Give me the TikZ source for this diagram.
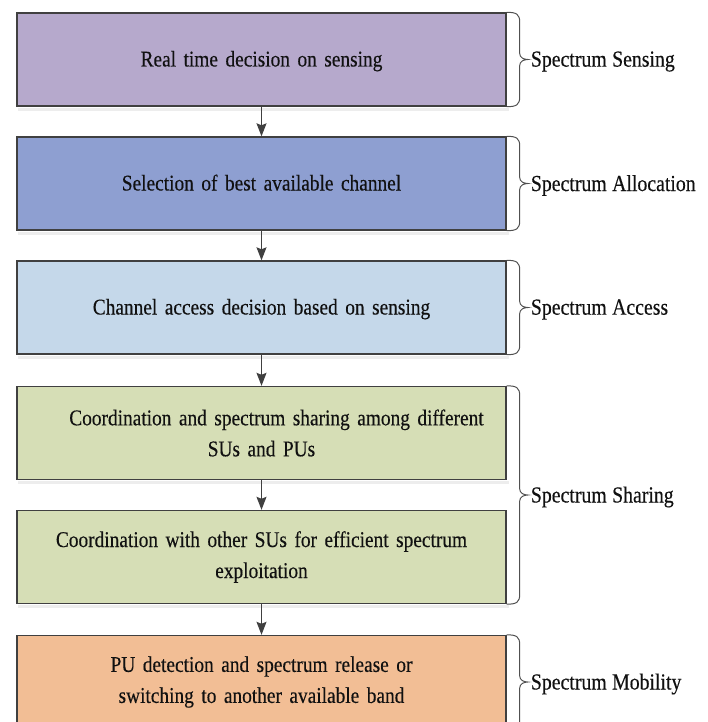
\documentclass[tikz,border=0pt]{standalone}
\usepackage{fontspec}
\setmainfont[FakeStretch=0.86,WordSpace=0.75,FakeBold=0.3]{Liberation Serif}
\newfontfamily\lblfont[FakeStretch=0.86,WordSpace=1.1,FakeBold=0.3]{Liberation Serif}
\usetikzlibrary{arrows.meta,calc}
\definecolor{cSense}{HTML}{B6A9CC}
\definecolor{cAlloc}{HTML}{8E9FD1}
\definecolor{cAccess}{HTML}{C5D8EA}
\definecolor{cShare}{HTML}{D6DEB6}
\definecolor{cMob}{HTML}{F2BE95}
\definecolor{boxline}{HTML}{404040}
\definecolor{arrowc}{HTML}{404040}
\definecolor{bracecol}{HTML}{505050}
\definecolor{txt}{HTML}{111111}
\newcommand{\specbrace}[3]{%
  \path (#1.north east) coordinate (bt-#3) (#2.south east) coordinate (bb-#3);
  \coordinate (bm-#3) at ($(bt-#3)!0.5!(bb-#3)$);
  \draw[bracec] (bt-#3) .. controls +(10,0) and +(0,-8) .. ($(bt-#3)+(13,10)$)
    -- ($(bm-#3)+(13,-6)$) .. controls +(0,4) and +(-4,0) .. ($(bm-#3)+(21,0)$) coordinate (#3)
    .. controls +(-4,0) and +(0,-4) .. ($(bm-#3)+(13,6)$)
    -- ($(bb-#3)+(13,-10)$) .. controls +(0,8) and +(10,0) .. (bb-#3);
}
\newcommand{\oneline}[1]{\raisebox{-7pt}[0pt][0pt]{#1}}
\begin{document}
\begin{tikzpicture}[x=1pt,y=-1pt,
  stagebox/.style={draw=boxline,line width=1.4pt,minimum width=489pt,minimum height=93pt,
    inner sep=0pt,align=center,text width=470pt,text=txt,font=\fontsize{22.5}{31}\selectfont},
  flow/.style={draw=arrowc,line width=1.1pt,-{Stealth[length=13pt,width=10pt,inset=2pt]}},
  bracec/.style={draw=bracecol,line width=1pt},
  lbl/.style={anchor=west,inner sep=0pt,text=txt,font=\lblfont\fontsize{23}{31}\selectfont},
  shade/.style={fill=black,opacity=0.07}]
\useasboundingbox (0,0) rectangle (708,722);
\fill[white] (0,0) rectangle (708,722);
\node[stagebox,fill=cSense] (b1) at (261.5,59.5) {\oneline{Real time decision on sensing}};
\node[stagebox,fill=cAlloc] (b2) at (261.5,183.5) {\oneline{Selection of best available channel}};
\node[stagebox,fill=cAccess] (b3) at (261.5,307.5) {\oneline{Channel access decision based on sensing}};
\node[stagebox,fill=cShare] (b4) at (261.5,433) {\hspace*{30pt}Coordination and spectrum sharing among different\\SUs and PUs};
\node[stagebox,fill=cShare] (b5) at (261.5,557) {Coordination with other SUs for efficient spectrum\\exploitation};
\node[stagebox,fill=cMob] (b6) at (261.5,682) {PU detection and spectrum release or\\switching to another available band};
\foreach \b in {b1,b2,b3,b4,b5}{
  \fill[shade] ($(\b.south west)+(2,1)$) rectangle ($(\b.south east)+(2,4)$);
}
\draw[flow] (b1) -- (b2);
\draw[flow] (b2) -- (b3);
\draw[flow] (b3) -- (b4);
\draw[flow] (b4) -- (b5);
\draw[flow] (b5) -- (b6);
\specbrace{b1}{b1}{t1}
\specbrace{b2}{b2}{t2}
\specbrace{b3}{b3}{t3}
\specbrace{b4}{b5}{t4}
\specbrace{b6}{b6}{t6}
\node[lbl] (l1) at ($(t1)+(3,2)$) {Spectrum Sensing};
\node[lbl] (l2) at ($(t2)+(3,2)$) {Spectrum Allocation};
\node[lbl] (l3) at ($(t3)+(3,2)$) {Spectrum Access};
\node[lbl] (l4) at ($(t4)+(3,2)$) {Spectrum Sharing};
\node[lbl] (l6) at ($(t6)+(3,2)$) {Spectrum Mobility};
\end{tikzpicture}
\end{document}
